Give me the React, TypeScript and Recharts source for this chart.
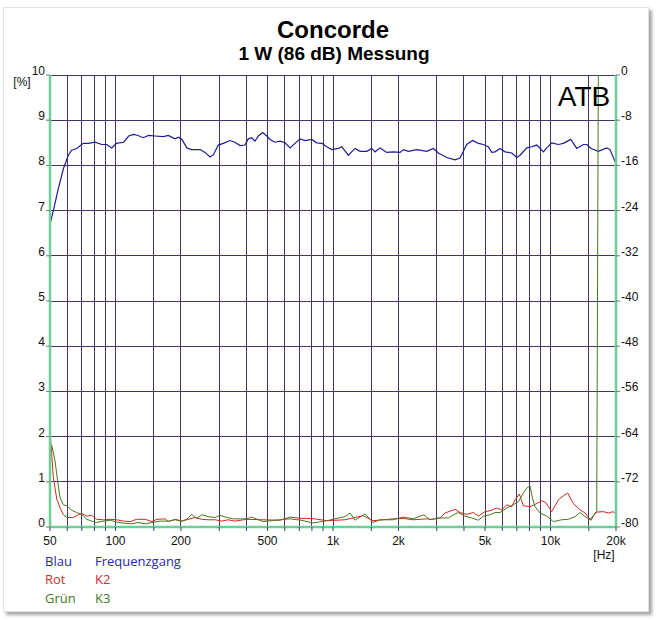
import { LineChart, Line, XAxis, YAxis, CartesianGrid } from "recharts";

// Gitterlinien (Hz) und beschriftete Frequenzen
const gridHz = [
  50, 60, 70, 80, 90, 100, 150, 200, 300, 400, 500, 600, 700, 800, 900, 1000,
  1500, 2000, 3000, 4000, 5000, 6000, 7000, 8000, 9000, 10000, 15000, 20000,
];
const hzLabels: Record<number, string> = {
  50: "50", 100: "100", 200: "200", 500: "500", 1000: "1k",
  2000: "2k", 5000: "5k", 10000: "10k", 20000: "20k",
};
const pctTicks = [0, 1, 2, 3, 4, 5, 6, 7, 8, 9, 10];
const dbTicks = [0, -8, -16, -24, -32, -40, -48, -56, -64, -72, -80];

// Blau: Frequenzgang (dB, rechte Achse)
const blauHz = [
  50, 51.8, 54.6, 57.6, 60.7, 62.9, 66.3, 71.1, 75, 80.5, 86.5, 91.2, 96.1, 101,
  109, 115, 121, 127, 134, 142, 152, 166, 175, 181, 188, 195, 202, 213, 224, 245,
  258, 272, 282, 297, 313, 336, 354, 374, 394, 408, 423, 438, 454, 475, 496, 513,
  541, 571, 602, 635, 669, 705, 744, 798, 842, 888, 936, 987, 1058, 1097, 1176,
  1263, 1332, 1430, 1507, 1561, 1645, 1767, 1894, 2034, 2106, 2221, 2427, 2698,
  2893, 3050, 3334, 3640, 3837, 4119, 4389, 4658, 4911, 5178, 5368, 5559, 5861,
  6180, 6635, 6994, 7244, 7774, 8197, 8643, 8952, 9268, 9608, 10131, 10864,
  11455, 12387, 13202, 14156, 14673, 15361, 16588, 18130, 18774, 20000,
];
const blauDb = [
  -26.4, -24.0, -20.1, -16.6, -14.2, -13.3, -13.0, -12.1, -12.1, -11.9, -12.3,
  -12.3, -12.9, -12.1, -11.9, -10.8, -10.5, -10.7, -11.1, -10.7, -10.8, -10.9,
  -10.7, -11.0, -11.3, -11.0, -11.4, -12.9, -13.2, -13.2, -13.7, -14.5, -14.1,
  -12.4, -12.1, -11.6, -11.9, -12.5, -12.4, -11.3, -11.1, -11.7, -10.8, -10.2,
  -10.8, -11.4, -11.9, -11.7, -12.0, -12.9, -12.1, -11.3, -11.6, -11.4, -12.0,
  -12.1, -12.7, -13.2, -13.0, -12.7, -14.2, -13.0, -13.5, -13.5, -13.0, -13.6,
  -12.9, -13.7, -13.6, -13.7, -13.2, -13.5, -13.2, -13.5, -13.0, -13.8, -14.6,
  -15.0, -14.7, -12.3, -11.6, -12.1, -12.3, -12.7, -13.7, -13.6, -13.0, -13.6,
  -13.8, -14.6, -14.2, -12.9, -12.7, -12.4, -13.0, -13.6, -12.9, -12.0, -12.3,
  -12.1, -11.4, -13.0, -12.3, -12.3, -13.0, -13.5, -12.9, -13.2, -15.7,
];

// Rot: K2 (%, linke Achse)
const rotHz = [
  50, 50.9, 51.8, 53.7, 55.6, 57.6, 59.7, 64, 67.5, 69.9, 73.7, 77.7, 82, 87.9,
  94.4, 101, 109, 117, 125, 137, 147, 155, 169, 175, 188, 202, 216, 232, 249, 267,
  287, 308, 330, 354, 400, 477, 570, 635, 713, 792, 939, 1136, 1375, 1528, 1888,
  2099, 2333, 2698, 2844, 3105, 3274, 3640, 3837, 4119, 4418, 4658, 5000, 5271,
  5660, 5967, 6291, 6635, 6868, 7191, 7500, 8051, 8488, 9114, 9508, 10131, 10864,
  11455, 12002, 12735, 13670, 14416, 15201, 16310, 17494, 18443, 19449, 20000,
];
const rotK2 = [
  2.13, 1.62, 1.1, 0.62, 0.43, 0.27, 0.21, 0.21, 0.27, 0.3, 0.24, 0.26, 0.17,
  0.16, 0.17, 0.16, 0.13, 0.12, 0.17, 0.17, 0.12, 0.17, 0.18, 0.12, 0.17, 0.13,
  0.17, 0.21, 0.17, 0.16, 0.16, 0.13, 0.16, 0.13, 0.17, 0.16, 0.15, 0.22, 0.19,
  0.19, 0.14, 0.16, 0.25, 0.14, 0.18, 0.19, 0.16, 0.18, 0.17, 0.2, 0.31, 0.39,
  0.32, 0.28, 0.32, 0.24, 0.34, 0.36, 0.42, 0.38, 0.49, 0.45, 0.6, 0.73, 0.47,
  0.45, 0.5, 0.58, 0.54, 0.34, 0.6, 0.69, 0.75, 0.52, 0.38, 0.31, 0.17, 0.33,
  0.34, 0.31, 0.34, 0.28,
];

// Grün: K3 (%, linke Achse)
const gruenHz = [
  50, 51, 52.7, 54.2, 55.6, 57.6, 59.7, 62.9, 66.3, 69.9, 73.7, 77.7, 82, 87.9,
  94.4, 101, 111, 119, 127, 137, 147, 160, 175, 188, 202, 213, 224, 236, 249, 267,
  287, 302, 325, 348, 400, 423, 477, 570, 635, 713, 810, 939, 1136, 1198, 1263,
  1404, 1528, 1645, 1888, 2099, 2333, 2614, 2793, 3050, 3391, 3576, 3770, 4045,
  4344, 4658, 4911, 5271, 5559, 5861, 6291, 6745, 7114, 7500, 7774, 8051, 8250,
  8488, 8952, 9608, 10304, 11254, 12076, 12963, 13670, 14416, 15361, 16020,
  16310, 16700, 20000,
];
const gruenK3 = [
  1.75, 1.8, 1.47, 1.02, 0.65, 0.49, 0.47, 0.37, 0.32, 0.28, 0.17, 0.13, 0.1,
  0.13, 0.15, 0.11, 0.08, 0.07, 0.1, 0.07, 0.1, 0.13, 0.13, 0.16, 0.13, 0.17,
  0.28, 0.19, 0.27, 0.23, 0.21, 0.26, 0.21, 0.18, 0.18, 0.22, 0.12, 0.16, 0.18,
  0.15, 0.09, 0.14, 0.23, 0.31, 0.15, 0.29, 0.1, 0.16, 0.16, 0.22, 0.18, 0.27,
  0.16, 0.2, 0.2, 0.27, 0.32, 0.24, 0.2, 0.15, 0.24, 0.27, 0.32, 0.32, 0.42,
  0.49, 0.56, 0.75, 0.86, 0.91, 0.64, 0.45, 0.31, 0.24, 0.12, 0.16, 0.17, 0.23,
  0.32, 0.23, 0.15, 0.31, 0.35, 14, 14,
];

const toPoints = (hz: number[], vals: number[]) =>
  hz.map((f, i) => ({ f, v: vals[i] }));

const GRID = "#44346a";
const FRAME = "#6ccf98";
const FONT = "'Liberation Sans', Arial, sans-serif";

const PctTick = ({ y, payload }: any) => (
  <text x={45} y={y} textAnchor="end" fontSize={12} fontFamily={FONT} fill="#111">
    {payload.value}
  </text>
);

const DbTick = ({ y, payload }: any) => (
  <text x={621} y={y} textAnchor="start" fontSize={12} fontFamily={FONT} fill="#111">
    {payload.value}
  </text>
);

const HzTick = ({ x, payload }: any) => {
  const label = hzLabels[payload.value];
  if (!label) return null;
  return (
    <text x={x} y={545} textAnchor="middle" fontSize={12} fontFamily={FONT} fill="#111">
      {label}
    </text>
  );
};

export default function App() {
  return (
    <div style={{ position: "absolute", left: 0, top: 0, width: 656, height: 620, background: "#fff" }}>
      <style>{".recharts-cartesian-grid line{shape-rendering:crispEdges}"}</style>
      <div
        style={{
          position: "absolute",
          left: 3,
          top: 7,
          width: 644,
          height: 603,
          border: "1px solid #e2e2e2",
          boxShadow: "3px 3px 3px rgba(0,0,0,0.35)",
          background: "#fff",
        }}
      />
      <div style={{ position: "absolute", left: 0, top: 0 }}>
        <LineChart width={656} height={620} margin={{ top: 75, right: 0, bottom: 73, left: 0 }}>
          <CartesianGrid stroke={GRID} strokeWidth={1} yAxisId="pct" />
          <XAxis
            dataKey="f"
            type="number"
            scale="log"
            domain={[50, 20000]}
            ticks={gridHz}
            interval={0}
            allowDataOverflow
            height={20}
            axisLine={{ stroke: FRAME, strokeWidth: 2.5 }}
            tickLine={{ stroke: GRID }}
            tickSize={4}
            tick={<HzTick />}
          />
          <YAxis
            yAxisId="pct"
            orientation="left"
            domain={[0, 10]}
            ticks={pctTicks}
            interval={0}
            allowDataOverflow
            width={50}
            axisLine={{ stroke: FRAME, strokeWidth: 2.5 }}
            tickLine={{ stroke: "#777" }}
            tickSize={4}
            tick={<PctTick />}
          />
          <YAxis
            yAxisId="db"
            orientation="right"
            domain={[-80, 0]}
            ticks={dbTicks}
            interval={0}
            allowDataOverflow
            width={40}
            axisLine={{ stroke: FRAME, strokeWidth: 2.5 }}
            tickLine={{ stroke: "#777" }}
            tickSize={4}
            tick={<DbTick />}
          />
          <Line
            yAxisId="db"
            data={toPoints(blauHz, blauDb)}
            dataKey="v"
            type="linear"
            stroke="#1c1c96"
            strokeWidth={1.2}
            dot={false}
            activeDot={false}
            isAnimationActive={false}
          />
          <Line
            yAxisId="pct"
            data={toPoints(rotHz, rotK2)}
            dataKey="v"
            type="linear"
            stroke="#d0281f"
            strokeWidth={1}
            dot={false}
            activeDot={false}
            isAnimationActive={false}
          />
          <Line
            yAxisId="pct"
            data={toPoints(gruenHz, gruenK3)}
            dataKey="v"
            type="linear"
            stroke="#457a1c"
            strokeWidth={1}
            dot={false}
            activeDot={false}
            isAnimationActive={false}
          />
        </LineChart>
      </div>
      <svg
        width={656}
        height={620}
        style={{ position: "absolute", left: 0, top: 0, pointerEvents: "none" }}
      >
        <text x={333} y={38} textAnchor="middle" fontSize={24} fontWeight="bold" fontFamily={FONT} fill="#000">
          Concorde
        </text>
        <text x={334} y={60} textAnchor="middle" fontSize={19} fontWeight="bold" fontFamily={FONT} fill="#000">
          1 W (86 dB) Messung
        </text>
        <text x={584} y={106} textAnchor="middle" fontSize={28} fontFamily={FONT} fill="#000">
          ATB
        </text>
        <text x={22} y={86} textAnchor="middle" fontSize={12} fontFamily={FONT} fill="#111">
          [%]
        </text>
        <text x={604} y={559} textAnchor="middle" fontSize={12} fontFamily={FONT} fill="#111">
          [Hz]
        </text>
        <g fontSize={13} fontFamily="'Open Sans', sans-serif">
          <text x={45} y={566} fill="#1f2aa6">Blau</text>
          <text x={95} y={566} fill="#1f2aa6">Frequenzgang</text>
          <text x={45} y={584} fill="#cc3030">Rot</text>
          <text x={95} y={584} fill="#cc3030">K2</text>
          <text x={45} y={603} fill="#3d7a1c">Grün</text>
          <text x={95} y={603} fill="#3d7a1c">K3</text>
        </g>
      </svg>
    </div>
  );
}
